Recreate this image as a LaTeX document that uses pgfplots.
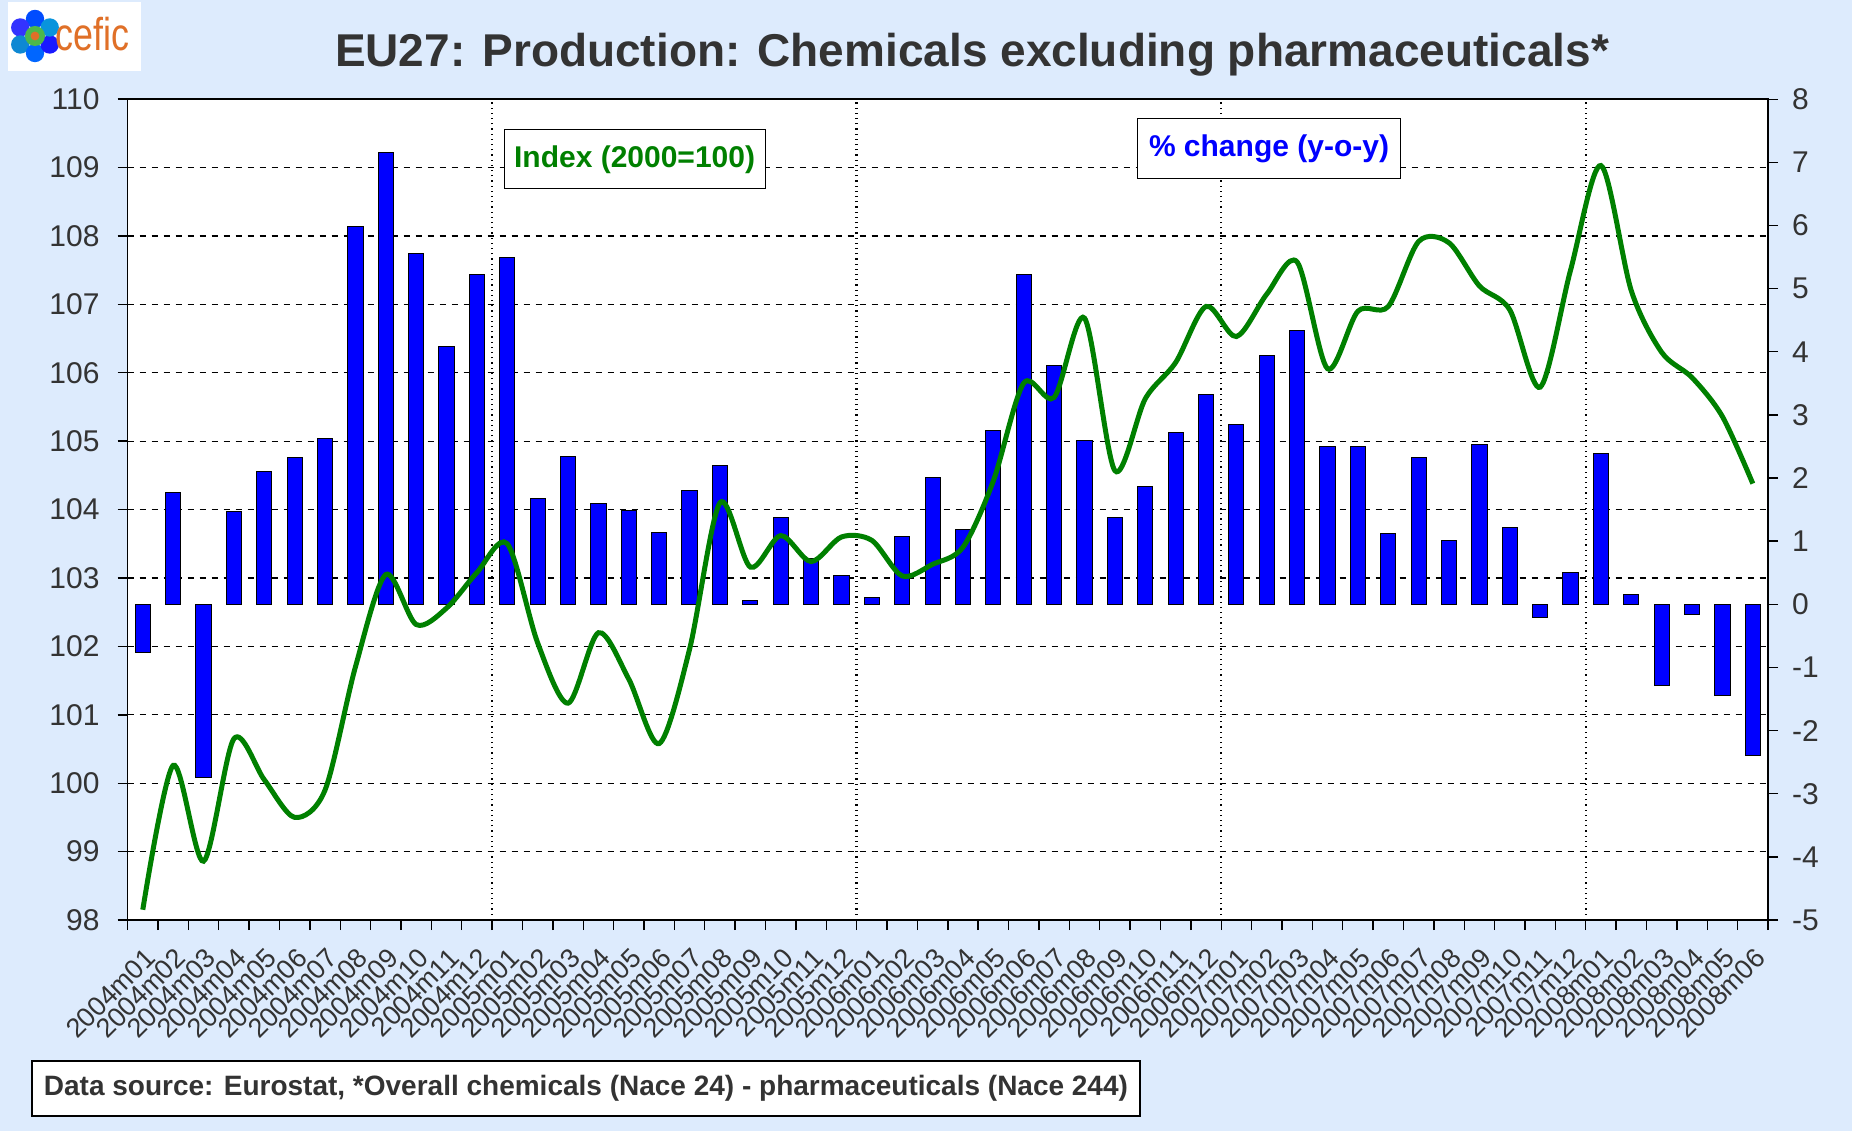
\documentclass[border=0pt]{standalone}
\usepackage{pgfplots}
\usepackage{pgfplotstable}
\pgfplotsset{compat=1.18}
\usepackage{fontspec}
\setmainfont{Liberation Sans}
\definecolor{bgblue}{RGB}{221,235,253}
\definecolor{linegreen}{RGB}{0,128,0}
\definecolor{txtgray}{RGB}{51,51,51}
\definecolor{ceficorange}{RGB}{224,112,40}

\pgfplotstableread{
i val
0 -0.77
1 1.77
2 -2.74
3 1.47
4 2.10
5 2.32
6 2.62
7 5.98
8 7.15
9 5.56
10 4.09
11 5.22
12 5.49
13 1.67
14 2.34
15 1.59
16 1.49
17 1.13
18 1.80
19 2.20
20 0.06
21 1.37
22 0.72
23 0.45
24 0.11
25 1.07
26 2.01
27 1.18
28 2.75
29 5.22
30 3.78
31 2.60
32 1.38
33 1.87
34 2.72
35 3.33
36 2.85
37 3.94
38 4.34
39 2.50
40 2.50
41 1.12
42 2.32
43 1.01
44 2.53
45 1.22
46 -0.21
47 0.51
48 2.39
49 0.15
50 -1.29
51 -0.16
52 -1.44
53 -2.40
}\barsdata

\pgfplotstableread{
i idx
0 98.15
1 100.26
2 98.86
3 100.65
4 100.05
5 99.50
6 99.90
7 101.70
8 103.05
9 102.32
10 102.56
11 103.08
12 103.50
13 102.05
14 101.17
15 102.20
16 101.52
17 100.58
18 101.96
19 104.10
20 103.16
21 103.62
22 103.24
23 103.60
24 103.55
25 103.03
26 103.20
27 103.45
28 104.42
29 105.85
30 105.64
31 106.80
32 104.57
33 105.62
34 106.15
35 106.97
36 106.53
37 107.15
38 107.62
39 106.06
40 106.90
41 106.97
42 107.92
43 107.90
44 107.27
45 106.92
46 105.79
47 107.50
48 109.03
49 107.20
50 106.30
51 105.93
52 105.36
53 104.38
}\indexdata

\begin{document}
\begin{tikzpicture}[x=1pt,y=1pt]
\fill[bgblue] (0,0) rectangle (926,565.5);
\useasboundingbox (0,0) rectangle (926,565.5);

% logo
\fill[white] (4,530) rectangle (70.5,564.5);
\foreach \a/\c in {90/blue!70!cyan,150/blue!80,210/cyan!70!blue,270/blue!60!cyan,330/blue!90,30/cyan!80!blue}{
  \fill[\c] (17.5,547.5) ++(\a:8.5) circle (4.6pt);
}
\fill[green!60!black!70] (17.5,547.5) circle (5pt);
\fill[ceficorange] (17.5,547.5) circle (2.2pt);
\node[text=ceficorange, anchor=west, inner sep=0pt] at (27.5,548.5) {\scalebox{0.78}[1]{\fontsize{23}{23}\selectfont cefic}};

% title
\node[text=txtgray, font=\bfseries\fontsize{23}{23}\selectfont] at (486,538) {EU27: Production: Chemicals excluding pharmaceuticals*};

% axis 1: left axis, grid
\begin{axis}[at={(63.8pt,105.5pt)}, anchor=south west, width=820.2pt, height=410.4pt, scale only axis,
  xmin=-0.5, xmax=53.5, ymin=98, ymax=110,
  axis background/.style={fill=white},
  axis line style={black, line width=0.8pt},
  ytick={98,...,110}, ymajorgrids,
  major grid style={dashed, black, line width=0.6pt},
  ytick pos=left, xtick pos=bottom,
  tick align=outside, major tick length=5pt, minor tick length=5pt,
  tick style={black, line width=0.7pt},
  xtick={0,...,53},
  major x tick style={draw=none},
  minor xtick={-0.5,0.5,...,53.5},
  xticklabels={2004m01,2004m02,2004m03,2004m04,2004m05,2004m06,2004m07,2004m08,2004m09,2004m10,2004m11,2004m12,2005m01,2005m02,2005m03,2005m04,2005m05,2005m06,2005m07,2005m08,2005m09,2005m10,2005m11,2005m12,2006m01,2006m02,2006m03,2006m04,2006m05,2006m06,2006m07,2006m08,2006m09,2006m10,2006m11,2006m12,2007m01,2007m02,2007m03,2007m04,2007m05,2007m06,2007m07,2007m08,2007m09,2007m10,2007m11,2007m12,2008m01,2008m02,2008m03,2008m04,2008m05,2008m06},
  x tick label style={rotate=45, anchor=east, font=\fontsize{13.5}{13.5}\selectfont, text=txtgray, inner sep=0.5pt, yshift=-11pt, xshift=-5pt},
  y tick label style={font=\fontsize{15}{15}\selectfont, text=txtgray, xshift=-5.5pt},
  /pgf/number format/assume math mode=true,
  extra x ticks={11.5,23.5,35.5,47.5}, extra x tick labels={},
  extra x tick style={grid=major, major grid style={dotted, black, line width=1.2pt}, major x tick style={black}, major tick length=5pt},
]
\end{axis}

% axis 2: bars on right axis
\begin{axis}[at={(63.8pt,105.5pt)}, anchor=south west, width=820.2pt, height=410.4pt, scale only axis,
  xmin=-0.5, xmax=53.5, ymin=-5, ymax=8,
  axis x line=none, axis y line*=right,
  axis line style={black, line width=0.8pt},
  ytick={-5,...,8},
  yticklabels={-5,-4,-3,-2,-1,0,1,2,3,4,5,6,7,8},
  tick align=outside, major tick length=5pt,
  tick style={black, line width=0.7pt},
  y tick label style={font=\fontsize{15}{15}\selectfont, text=txtgray, xshift=3.5pt},
  ybar, bar width=0.5,
]
\addplot[fill=blue, draw=black, line width=0.5pt] table[x=i, y=val] {\barsdata};
\end{axis}

% axis 3: index line
\begin{axis}[at={(63.8pt,105.5pt)}, anchor=south west, width=820.2pt, height=410.4pt, scale only axis,
  xmin=-0.5, xmax=53.5, ymin=98, ymax=110, hide axis]
\addplot[linegreen, line width=2.5pt, smooth, tension=0.5] table[x=i, y=idx] {\indexdata};
\end{axis}

% legend boxes
\node[draw=black, fill=white, line width=0.6pt, minimum width=130.5pt, minimum height=29.5pt, text=linegreen, font=\bfseries\fontsize{15}{15}\selectfont] at (317.3,485.8) {Index (2000=100)};
\node[draw=black, fill=white, line width=0.6pt, minimum width=131.7pt, minimum height=30.1pt, text=blue, font=\bfseries\fontsize{15}{15}\selectfont] at (634.5,491.3) {\% change (y-o-y)};

% footnote
\node[draw=black, fill=white, line width=0.8pt, minimum width=554pt, minimum height=27.5pt, text=txtgray, font=\bfseries\fontsize{14}{14}\selectfont] at (293,21.3) {Data source: Eurostat, *Overall chemicals (Nace 24) - pharmaceuticals (Nace 244)};
\end{tikzpicture}
\end{document}
